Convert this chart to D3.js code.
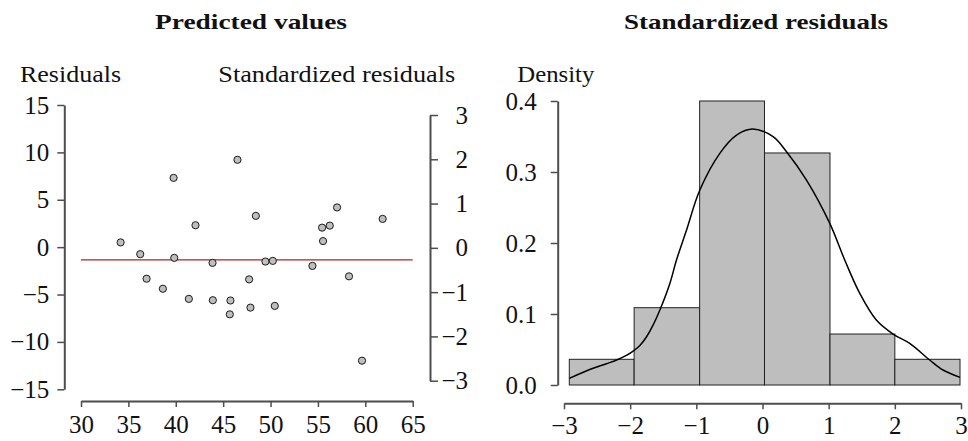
<!DOCTYPE html>
<html>
<head>
<meta charset="utf-8">
<script src="https://cdn.jsdelivr.net/npm/d3@7"></script>
<style>
  html, body { margin: 0; padding: 0; background: #fff; }
  svg { display: block; }
  text { font-family: "Liberation Serif", "Times New Roman", serif; fill: #111; }
</style>
</head>
<body>
<svg id="chart" width="968" height="441"></svg>
<script>
// ---------- data ----------
const predicted = [34.18, 36.25, 39.77, 39.84, 42.08, 43.88, 46.51, 48.45, 49.46, 50.24,
  54.42, 55.44, 56.25, 57.02, 55.54, 58.28, 61.83, 36.92, 47.74, 38.64,
  41.38, 43.91, 45.77, 45.70, 47.88, 50.45, 59.65];
const residuals = [0.50, -0.74, 7.31, -1.13, 2.31, -1.66, 9.22, 3.30, -1.52, -1.45,
  -1.98, 2.06, 2.27, 4.19, 0.64, -3.08, 2.98, -3.33, -3.40, -4.39,
  -5.46, -5.60, -5.63, -7.09, -6.38, -6.20, -11.98];
const refLineY = -1.35;
const xTicksLeft = [30, 35, 40, 45, 50, 55, 60, 65];
const yTicksResid = [-15, -10, -5, 0, 5, 10, 15];
const yTicksStd = [-3, -2, -1, 0, 1, 2, 3];

const binEdges = [-2.92, -1.94, -0.95, 0.03, 1.02, 2.00, 2.985];
const binDensity = [0.0362, 0.1089, 0.400, 0.3268, 0.0718, 0.0362];
const densX = [-2.92, -2.56, -2.36, -2.205, -2.05, -1.944, -1.85, -1.752, -1.65, -1.551,
  -1.40, -1.30, -1.148, -0.947, -0.645, -0.393, -0.15, 0.16, 0.363, 0.665,
  1.017, 1.243, 1.47, 1.72, 1.973, 2.225, 2.527, 2.728, 2.985];
const densY = [0.0094, 0.0235, 0.030, 0.0352, 0.042, 0.0483, 0.056, 0.068, 0.085, 0.1056,
  0.143, 0.176, 0.2183, 0.2746, 0.3263, 0.352, 0.3606, 0.3497, 0.3286, 0.2887,
  0.2277, 0.176, 0.129, 0.0915, 0.0718, 0.0587, 0.0352, 0.0211, 0.0108];
const xTicksHist = [-3, -2, -1, 0, 1, 2, 3];
const yTicksHist = [0, 0.1, 0.2, 0.3, 0.4];

// ---------- drawing ----------
const svg = d3.select("#chart");
const axisColor = "#4d4d4d";
const tickFont = 25;

function styleAxis(g) {
  g.attr("font-family", null).attr("font-size", null);
  g.select(".domain").attr("stroke", axisColor).attr("stroke-width", 2);
  g.selectAll(".tick line").attr("stroke", axisColor).attr("stroke-width", 1.5);
  g.selectAll(".tick text").attr("fill", "#111")
    .style("font-family", '"Liberation Serif", serif').style("font-size", tickFont + "px");
}
const fmtMinus = d => (d < 0 ? "\u2212" + Math.abs(d) : String(d));

// Left panel scales
const xL = d3.scaleLinear().domain([30, 65]).range([81, 412.7]);
const yR = d3.scaleLinear().domain([-15, 15]).range([389.3, 105]);
const yS = d3.scaleLinear().domain([-3, 3]).range([380.7, 115]);

// left y axis
svg.append("g").attr("transform", "translate(64.3,0)")
  .call(d3.axisLeft(yR).tickValues(yTicksResid).tickSize(7).tickPadding(8)
    .tickFormat(fmtMinus).tickSizeOuter(0))
  .call(styleAxis);

// right y axis (standardized)
const rAx = svg.append("g").attr("transform", "translate(430,0)")
  .call(d3.axisRight(yS).tickValues(yTicksStd).tickSize(8).tickPadding(4)
    .tickFormat(fmtMinus).tickSizeOuter(0))
  .call(styleAxis);
rAx.selectAll(".tick text").attr("text-anchor", "end").attr("x", 38);

// bottom x axis
svg.append("g").attr("transform", "translate(0,401)")
  .call(d3.axisBottom(xL).tickValues(xTicksLeft).tickSize(6).tickPadding(8)
    .tickFormat(d3.format("d")).tickSizeOuter(0))
  .call(styleAxis);

// reference line
svg.append("line")
  .attr("x1", xL(30)).attr("x2", xL(65))
  .attr("y1", yR(refLineY)).attr("y2", yR(refLineY))
  .attr("stroke", "#b22222").attr("stroke-width", 1.2);

// points
svg.append("g").selectAll("circle")
  .data(predicted.map((p, i) => [p, residuals[i]]))
  .join("circle")
  .attr("cx", d => xL(d[0])).attr("cy", d => yR(d[1]))
  .attr("r", 3.6)
  .attr("fill", "#bebebe").attr("stroke", "#1a1a1a").attr("stroke-width", 1);

// Left titles
svg.append("text").attr("x", 251).attr("y", 28.5).attr("text-anchor", "middle")
  .style("font-size", "22px").style("font-weight", "bold")
  .attr("textLength", 192).attr("lengthAdjust", "spacingAndGlyphs")
  .text("Predicted values");
svg.append("text").attr("x", 20).attr("y", 81.7)
  .style("font-size", "23px")
  .attr("textLength", 101).attr("lengthAdjust", "spacingAndGlyphs")
  .text("Residuals");
svg.append("text").attr("x", 218.3).attr("y", 81.7)
  .style("font-size", "23px")
  .attr("textLength", 237).attr("lengthAdjust", "spacingAndGlyphs")
  .text("Standardized residuals");

// ---------- Right panel: histogram ----------
const xH = d3.scaleLinear().domain([-3, 3]).range([564, 961]);
const yH = d3.scaleLinear().domain([0, 0.4]).range([385, 101]);

svg.append("g").attr("transform", "translate(557.7,0)")
  .call(d3.axisLeft(yH).tickValues(yTicksHist).tickSize(7).tickPadding(14)
    .tickFormat(d3.format(".1f")).tickSizeOuter(0))
  .call(styleAxis);

svg.append("g").attr("transform", "translate(0,403.3)")
  .call(d3.axisBottom(xH).tickValues(xTicksHist).tickSize(6).tickPadding(7)
    .tickFormat(fmtMinus).tickSizeOuter(0))
  .call(styleAxis);

svg.append("g").selectAll("rect")
  .data(binDensity.map((d, i) => ({ x0: binEdges[i], x1: binEdges[i + 1], d })))
  .join("rect")
  .attr("x", d => xH(d.x0)).attr("width", d => xH(d.x1) - xH(d.x0))
  .attr("y", d => yH(d.d)).attr("height", d => yH(0) - yH(d.d))
  .attr("fill", "#bebebe").attr("stroke", "#222").attr("stroke-width", 1);

const line = d3.line().x(d => xH(d[0])).y(d => yH(d[1])).curve(d3.curveCatmullRom.alpha(0.5));
svg.append("path")
  .datum(densX.map((x, i) => [x, densY[i]]))
  .attr("d", line).attr("fill", "none").attr("stroke", "#000").attr("stroke-width", 1.5);

svg.append("text").attr("x", 756).attr("y", 28.5).attr("text-anchor", "middle")
  .style("font-size", "22px").style("font-weight", "bold")
  .attr("textLength", 264).attr("lengthAdjust", "spacingAndGlyphs")
  .text("Standardized residuals");
svg.append("text").attr("x", 517.3).attr("y", 81.7)
  .style("font-size", "23px")
  .attr("textLength", 77).attr("lengthAdjust", "spacingAndGlyphs")
  .text("Density");
</script>
</body>
</html>
